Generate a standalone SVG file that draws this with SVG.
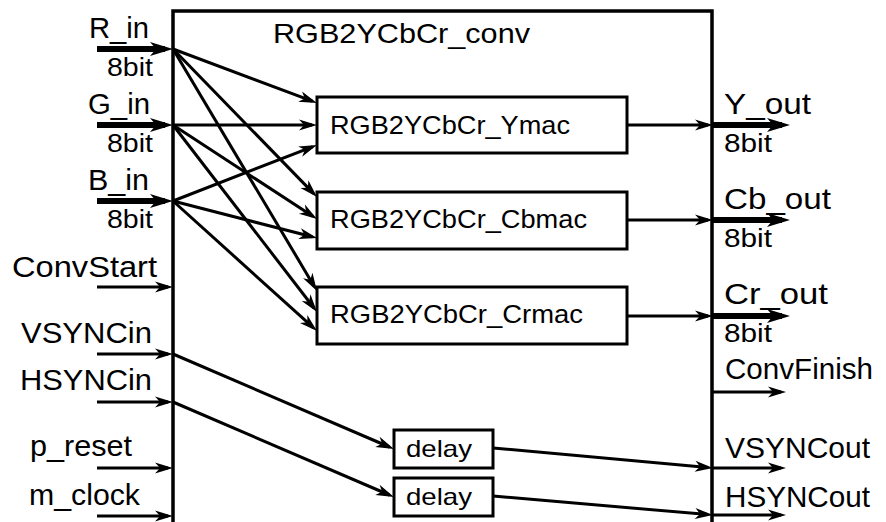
<svg xmlns="http://www.w3.org/2000/svg" width="886" height="522" viewBox="0 0 886 522">
<style>
text{font-family:"Liberation Sans",Arial,sans-serif;fill:#000}
.lbl{font-size:30px}
.bit{font-size:25px}
.title{font-size:28px}
.sub{font-size:26px}
.dl{font-size:24px}
.thin{stroke:#000;stroke-width:3;fill:none;marker-end:url(#a)}
.thick{stroke:#000;stroke-width:6;fill:none;marker-end:url(#b)}
.box{fill:#fff;stroke:#000;stroke-width:3}
</style>
<defs>
<marker id="a" markerUnits="userSpaceOnUse" viewBox="-14 -7 20 14" markerWidth="20" markerHeight="14" refX="0" refY="0" orient="auto">
<path d="M5,0 L-13,-5.5 L-8,0 L-13,5.5 Z" fill="#000"/>
</marker>
<marker id="b" markerUnits="userSpaceOnUse" viewBox="-16 -9 26 18" markerWidth="26" markerHeight="18" refX="0" refY="0" orient="auto">
<path d="M8,0 L-15,-7 L-9,0 L-15,7 Z" fill="#000"/>
</marker>
</defs>

<g id="main">
<path d="M173,530 V11 H712 V530" fill="none" stroke="#000" stroke-width="3.5"/>
<text class="title" x="273" y="43" textLength="257" lengthAdjust="spacingAndGlyphs">RGB2YCbCr_conv</text>
</g>

<g id="ymac">
<rect class="box" x="317" y="97" width="310" height="56"/>
<text class="sub" x="330" y="134" textLength="240" lengthAdjust="spacingAndGlyphs">RGB2YCbCr_Ymac</text>
</g>
<g id="cbmac">
<rect class="box" x="317" y="192" width="310" height="57"/>
<text class="sub" x="330" y="228" textLength="257" lengthAdjust="spacingAndGlyphs">RGB2YCbCr_Cbmac</text>
</g>
<g id="crmac">
<rect class="box" x="317" y="287" width="310" height="57"/>
<text class="sub" x="330" y="323" textLength="253" lengthAdjust="spacingAndGlyphs">RGB2YCbCr_Crmac</text>
</g>
<g id="delay1">
<rect class="box" x="394" y="430" width="99" height="38" stroke-width="2.5"/>
<text class="dl" x="406" y="457" textLength="66" lengthAdjust="spacingAndGlyphs">delay</text>
</g>
<g id="delay2">
<rect class="box" x="394" y="478" width="99" height="38" stroke-width="2.5"/>
<text class="dl" x="406" y="505" textLength="66" lengthAdjust="spacingAndGlyphs">delay</text>
</g>

<g id="inputs">
<text class="lbl" x="89" y="38" textLength="60" lengthAdjust="spacingAndGlyphs">R_in</text>
<text class="bit" x="107" y="76" textLength="46" lengthAdjust="spacingAndGlyphs">8bit</text>
<text class="lbl" x="88" y="114" textLength="62" lengthAdjust="spacingAndGlyphs">G_in</text>
<text class="bit" x="107" y="152" textLength="46" lengthAdjust="spacingAndGlyphs">8bit</text>
<text class="lbl" x="88" y="190" textLength="61" lengthAdjust="spacingAndGlyphs">B_in</text>
<text class="bit" x="107" y="228" textLength="46" lengthAdjust="spacingAndGlyphs">8bit</text>
<text class="lbl" x="12" y="277" textLength="145" lengthAdjust="spacingAndGlyphs">ConvStart</text>
<text class="lbl" x="21" y="343" textLength="131" lengthAdjust="spacingAndGlyphs">VSYNCin</text>
<text class="lbl" x="20" y="390" textLength="132" lengthAdjust="spacingAndGlyphs">HSYNCin</text>
<text class="lbl" x="30" y="456" textLength="102" lengthAdjust="spacingAndGlyphs">p_reset</text>
<text class="lbl" x="29" y="505" textLength="111" lengthAdjust="spacingAndGlyphs">m_clock</text>
</g>

<g id="outputs">
<text class="lbl" x="724" y="114" textLength="87" lengthAdjust="spacingAndGlyphs">Y_out</text>
<text class="bit" x="724" y="152" textLength="48" lengthAdjust="spacingAndGlyphs">8bit</text>
<text class="lbl" x="724" y="209" textLength="107" lengthAdjust="spacingAndGlyphs">Cb_out</text>
<text class="bit" x="724" y="247" textLength="48" lengthAdjust="spacingAndGlyphs">8bit</text>
<text class="lbl" x="724" y="304" textLength="104" lengthAdjust="spacingAndGlyphs">Cr_out</text>
<text class="bit" x="724" y="342" textLength="48" lengthAdjust="spacingAndGlyphs">8bit</text>
<text class="lbl" x="725" y="379" textLength="148" lengthAdjust="spacingAndGlyphs">ConvFinish</text>
<text class="lbl" x="725" y="458" textLength="145" lengthAdjust="spacingAndGlyphs">VSYNCout</text>
<text class="lbl" x="725" y="507" textLength="145" lengthAdjust="spacingAndGlyphs">HSYNCout</text>
</g>

<g id="connectors">
<!-- bus inputs -->
<line class="thick" x1="97" y1="49" x2="165" y2="49"/>
<line class="thick" x1="97" y1="125" x2="165" y2="125"/>
<line class="thick" x1="97" y1="201" x2="165" y2="201"/>
<!-- single inputs -->
<line class="thin" x1="97" y1="287" x2="168" y2="287"/>
<line class="thin" x1="97" y1="354" x2="168" y2="354"/>
<line class="thin" x1="97" y1="402" x2="168" y2="402"/>
<line class="thin" x1="97" y1="468" x2="168" y2="468"/>
<line class="thin" x1="97" y1="516" x2="168" y2="516"/>
<!-- crossbar -->
<line class="thin" x1="173" y1="49" x2="312.3" y2="101.2"/>
<line class="thin" x1="173" y1="49" x2="313.5" y2="193.4"/>
<line class="thin" x1="173" y1="49" x2="314.4" y2="286.7"/>
<line class="thin" x1="173" y1="125" x2="312" y2="125"/>
<line class="thin" x1="173" y1="125" x2="312.8" y2="216.3"/>
<line class="thin" x1="173" y1="125" x2="314" y2="308"/>
<line class="thin" x1="173" y1="201" x2="312.3" y2="146.8"/>
<line class="thin" x1="173" y1="201" x2="312.2" y2="236.8"/>
<line class="thin" x1="173" y1="201" x2="313.3" y2="327.7"/>
<!-- sync to delay -->
<line class="thin" x1="173" y1="354" x2="389.4" y2="447"/>
<line class="thin" x1="173" y1="402" x2="389.4" y2="495"/>
<!-- mac outputs -->
<line class="thin" x1="627" y1="125" x2="708" y2="125"/>
<line class="thin" x1="627" y1="220" x2="708" y2="220"/>
<line class="thin" x1="627" y1="316" x2="708" y2="316"/>
<!-- delay outputs -->
<line class="thin" x1="493" y1="448" x2="708" y2="467.5"/>
<line class="thin" x1="493" y1="496" x2="708" y2="514.6"/>
<!-- bus outputs -->
<line class="thick" x1="713" y1="125" x2="782" y2="125"/>
<line class="thick" x1="713" y1="220" x2="782" y2="220"/>
<line class="thick" x1="713" y1="316" x2="782" y2="316"/>
<!-- single outputs -->
<line class="thin" x1="713" y1="392" x2="781" y2="392"/>
<line class="thin" x1="713" y1="468" x2="781" y2="468"/>
<line class="thin" x1="713" y1="515" x2="781" y2="515"/>
</g>
</svg>
